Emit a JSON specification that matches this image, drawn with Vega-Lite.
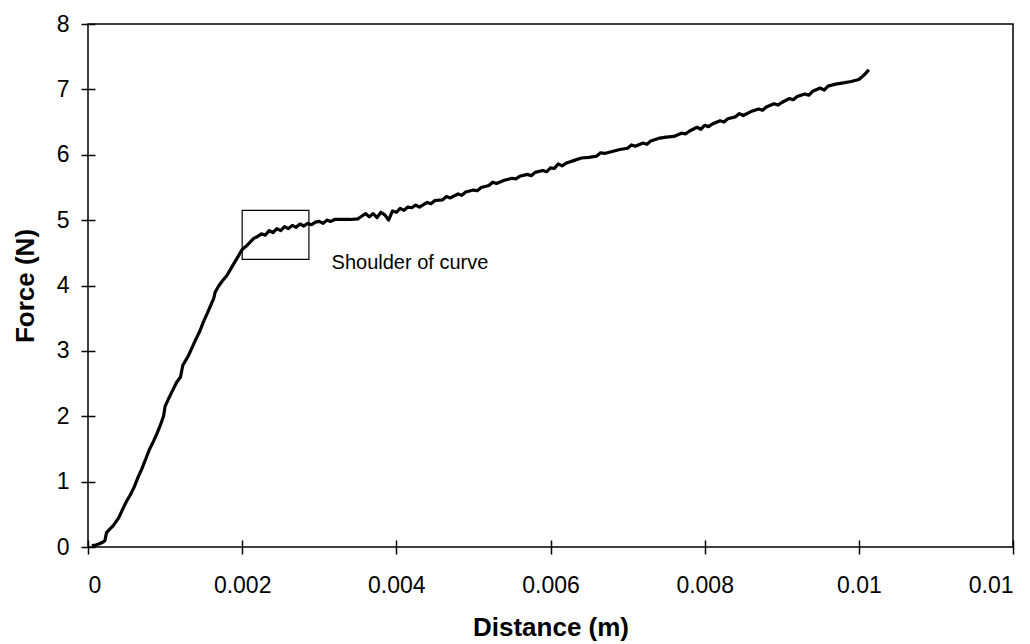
{
  "$schema": "https://vega.github.io/schema/vega-lite/v6.json",
  "width": 925,
  "height": 523,
  "autosize": "none",
  "padding": {"left": 88, "top": 24, "right": 17, "bottom": 97},
  "background": "white",
  "config": {
    "view": {"stroke": "black", "strokeWidth": 1.5},
    "font": "Liberation Sans",
    "axis": {
      "domain": false,
      "grid": false,
      "offset": -7,
      "tickSize": 14,
      "tickColor": "black",
      "tickWidth": 1.5,
      "labelColor": "black",
      "labelFont": "Liberation Sans",
      "labelFontSize": 23,
      "titleFont": "Liberation Sans",
      "titleFontSize": 26,
      "titleFontWeight": "bold",
      "titleColor": "black"
    }
  },
  "datasets": {
    "curve": [
      {"d": 0.00005, "f": 0.02}, {"d": 0.0001, "f": 0.03}, {"d": 0.00015, "f": 0.05}, {"d": 0.0002, "f": 0.08},
      {"d": 0.00022, "f": 0.1}, {"d": 0.00024, "f": 0.22}, {"d": 0.00028, "f": 0.27}, {"d": 0.00033, "f": 0.33},
      {"d": 0.0004, "f": 0.45}, {"d": 0.00045, "f": 0.58}, {"d": 0.0005, "f": 0.7}, {"d": 0.00055, "f": 0.8},
      {"d": 0.0006, "f": 0.92}, {"d": 0.00065, "f": 1.07}, {"d": 0.0007, "f": 1.2}, {"d": 0.00075, "f": 1.35},
      {"d": 0.0008, "f": 1.5}, {"d": 0.00085, "f": 1.62}, {"d": 0.0009, "f": 1.75}, {"d": 0.00095, "f": 1.9},
      {"d": 0.00098, "f": 2.0}, {"d": 0.001, "f": 2.15}, {"d": 0.00105, "f": 2.28}, {"d": 0.0011, "f": 2.4},
      {"d": 0.00115, "f": 2.52}, {"d": 0.0012, "f": 2.6}, {"d": 0.00123, "f": 2.78}, {"d": 0.0013, "f": 2.92},
      {"d": 0.00135, "f": 3.05}, {"d": 0.0014, "f": 3.18}, {"d": 0.00145, "f": 3.3}, {"d": 0.0015, "f": 3.45},
      {"d": 0.00155, "f": 3.58}, {"d": 0.0016, "f": 3.72}, {"d": 0.00163, "f": 3.8}, {"d": 0.00165, "f": 3.9},
      {"d": 0.0017, "f": 4.0}, {"d": 0.00175, "f": 4.08}, {"d": 0.0018, "f": 4.15}, {"d": 0.00185, "f": 4.25},
      {"d": 0.0019, "f": 4.35}, {"d": 0.00195, "f": 4.45}, {"d": 0.002, "f": 4.55}, {"d": 0.00205, "f": 4.6},
      {"d": 0.0021, "f": 4.66}, {"d": 0.00215, "f": 4.72}, {"d": 0.0022, "f": 4.75}, {"d": 0.00225, "f": 4.79},
      {"d": 0.0023, "f": 4.77}, {"d": 0.00235, "f": 4.84}, {"d": 0.0024, "f": 4.81}, {"d": 0.00245, "f": 4.87},
      {"d": 0.0025, "f": 4.84}, {"d": 0.00255, "f": 4.9}, {"d": 0.0026, "f": 4.87}, {"d": 0.00265, "f": 4.92},
      {"d": 0.0027, "f": 4.89}, {"d": 0.00275, "f": 4.94}, {"d": 0.0028, "f": 4.91}, {"d": 0.00285, "f": 4.95},
      {"d": 0.0029, "f": 4.93}, {"d": 0.00295, "f": 4.97}, {"d": 0.003, "f": 4.98}, {"d": 0.00305, "f": 4.95},
      {"d": 0.0031, "f": 5.0}, {"d": 0.00315, "f": 4.98}, {"d": 0.0032, "f": 5.01}, {"d": 0.0033, "f": 5.01},
      {"d": 0.0034, "f": 5.01}, {"d": 0.0035, "f": 5.02}, {"d": 0.00355, "f": 5.06}, {"d": 0.0036, "f": 5.1},
      {"d": 0.00365, "f": 5.05}, {"d": 0.0037, "f": 5.1}, {"d": 0.00375, "f": 5.04}, {"d": 0.0038, "f": 5.12},
      {"d": 0.00385, "f": 5.08}, {"d": 0.0039, "f": 5.0}, {"d": 0.00395, "f": 5.14}, {"d": 0.004, "f": 5.12},
      {"d": 0.00405, "f": 5.18}, {"d": 0.0041, "f": 5.15}, {"d": 0.00415, "f": 5.2}, {"d": 0.0042, "f": 5.19},
      {"d": 0.00425, "f": 5.23}, {"d": 0.0043, "f": 5.2}, {"d": 0.0044, "f": 5.27}, {"d": 0.00445, "f": 5.25},
      {"d": 0.0045, "f": 5.3}, {"d": 0.0046, "f": 5.31}, {"d": 0.00465, "f": 5.36}, {"d": 0.0047, "f": 5.34},
      {"d": 0.0048, "f": 5.4}, {"d": 0.00485, "f": 5.38}, {"d": 0.0049, "f": 5.43}, {"d": 0.005, "f": 5.46},
      {"d": 0.00505, "f": 5.45}, {"d": 0.0051, "f": 5.5}, {"d": 0.0052, "f": 5.53}, {"d": 0.00525, "f": 5.58},
      {"d": 0.0053, "f": 5.56}, {"d": 0.0054, "f": 5.61}, {"d": 0.0055, "f": 5.64}, {"d": 0.00555, "f": 5.63},
      {"d": 0.0056, "f": 5.67}, {"d": 0.0057, "f": 5.7}, {"d": 0.00575, "f": 5.68}, {"d": 0.0058, "f": 5.73},
      {"d": 0.0059, "f": 5.76}, {"d": 0.00595, "f": 5.74}, {"d": 0.006, "f": 5.8}, {"d": 0.00605, "f": 5.79},
      {"d": 0.0061, "f": 5.86}, {"d": 0.00615, "f": 5.83}, {"d": 0.0062, "f": 5.87}, {"d": 0.0063, "f": 5.91},
      {"d": 0.0064, "f": 5.95}, {"d": 0.0065, "f": 5.96}, {"d": 0.0066, "f": 5.98}, {"d": 0.00665, "f": 6.03},
      {"d": 0.0067, "f": 6.02}, {"d": 0.0068, "f": 6.05}, {"d": 0.0069, "f": 6.08}, {"d": 0.007, "f": 6.1},
      {"d": 0.00705, "f": 6.15}, {"d": 0.0071, "f": 6.13}, {"d": 0.0072, "f": 6.18}, {"d": 0.00725, "f": 6.16},
      {"d": 0.0073, "f": 6.21}, {"d": 0.0074, "f": 6.25}, {"d": 0.0075, "f": 6.27}, {"d": 0.0076, "f": 6.28},
      {"d": 0.0077, "f": 6.33}, {"d": 0.00775, "f": 6.32}, {"d": 0.0078, "f": 6.36}, {"d": 0.0079, "f": 6.42},
      {"d": 0.00795, "f": 6.39}, {"d": 0.008, "f": 6.45}, {"d": 0.00805, "f": 6.43}, {"d": 0.0081, "f": 6.47},
      {"d": 0.0082, "f": 6.52}, {"d": 0.00825, "f": 6.5}, {"d": 0.0083, "f": 6.55}, {"d": 0.0084, "f": 6.58},
      {"d": 0.00845, "f": 6.63}, {"d": 0.0085, "f": 6.6}, {"d": 0.0086, "f": 6.66}, {"d": 0.0087, "f": 6.7},
      {"d": 0.00875, "f": 6.68}, {"d": 0.0088, "f": 6.73}, {"d": 0.0089, "f": 6.78}, {"d": 0.00895, "f": 6.76},
      {"d": 0.009, "f": 6.8}, {"d": 0.0091, "f": 6.86}, {"d": 0.00915, "f": 6.84}, {"d": 0.0092, "f": 6.89},
      {"d": 0.0093, "f": 6.93}, {"d": 0.00935, "f": 6.91}, {"d": 0.0094, "f": 6.97}, {"d": 0.0095, "f": 7.02},
      {"d": 0.00955, "f": 6.99}, {"d": 0.0096, "f": 7.05}, {"d": 0.0097, "f": 7.08}, {"d": 0.0098, "f": 7.1},
      {"d": 0.0099, "f": 7.12}, {"d": 0.01, "f": 7.15}, {"d": 0.01005, "f": 7.2}, {"d": 0.0101, "f": 7.26},
      {"d": 0.01013, "f": 7.3}
    ],
    "box": [{"x1": 0.002, "x2": 0.002866, "y1": 4.4, "y2": 5.15}],
    "note": [{"x": 0.00316, "y": 4.34, "label": "Shoulder of curve"}]
  },
  "layer": [
    {
      "data": {"name": "box"},
      "mark": {"type": "rect", "fill": null, "fillOpacity": 0, "stroke": "black", "strokeWidth": 1.2},
      "encoding": {
        "x": {"field": "x1", "type": "quantitative"},
        "x2": {"field": "x2"},
        "y": {"field": "y1", "type": "quantitative"},
        "y2": {"field": "y2"}
      }
    },
    {
      "data": {"name": "curve"},
      "mark": {"type": "line", "color": "black", "strokeWidth": 3.2, "strokeJoin": "round"},
      "encoding": {
        "x": {
          "field": "d",
          "type": "quantitative",
          "title": "Distance (m)",
          "scale": {"domain": [0, 0.012], "nice": false},
          "axis": {
            "values": [0, 0.002, 0.004, 0.006, 0.008, 0.01, 0.012],
            "labelExpr": "datum.value > 0.011 ? '0.01' : format(datum.value, '~g')",
            "labelPadding": 20,
            "titlePadding": 17
          }
        },
        "y": {
          "field": "f",
          "type": "quantitative",
          "title": "Force (N)",
          "scale": {"domain": [0, 8], "nice": false},
          "axis": {
            "values": [0, 1, 2, 3, 4, 5, 6, 7, 8],
            "format": "d",
            "labelPadding": 12,
            "titlePadding": 18
          }
        }
      }
    },
    {
      "data": {"name": "note"},
      "mark": {"type": "text", "align": "left", "baseline": "middle", "fontSize": 20, "font": "Liberation Sans", "color": "black"},
      "encoding": {
        "x": {"field": "x", "type": "quantitative"},
        "y": {"field": "y", "type": "quantitative"},
        "text": {"field": "label"}
      }
    }
  ]
}
